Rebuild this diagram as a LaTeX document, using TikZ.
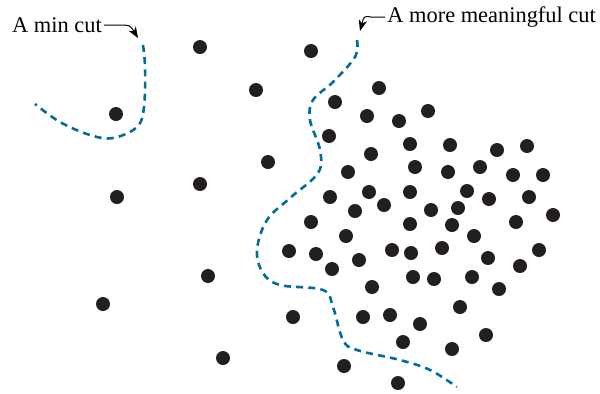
\documentclass[tikz,border=0pt]{standalone}
\usepackage{fontspec}
\setmainfont{Liberation Serif}
\usetikzlibrary{arrows.meta,positioning}
\definecolor{cutblue}{RGB}{0,110,152}
\definecolor{dotblack}{RGB}{35,31,32}
\tikzset{
  cutline/.style={cutblue,line width=1.3pt,dash pattern=on 3.5pt off 2.6pt},
  vertex/.style={fill=dotblack},
  cutlabel/.style={inner sep=1pt,font=\fontsize{11.2}{13}\selectfont},
  pointer/.style={-{Stealth[length=5.5pt,width=4.2pt,inset=1.6pt]},line width=0.5pt}
}
\begin{document}
\begin{tikzpicture}[x=0.5pt,y=-0.5pt]
    \useasboundingbox (0,0) rectangle (600,393);
    % points of the graph
    \foreach \px/\py in {200/47,311/51,256/90,379/88,335/102,116/114,367/116,399/121,428/111,
        329/136,410/144,450/145,497/150,527/146,268/162,371/154,415/167,448/172,480/167,
        513/175,543/175,348/172,200/184,117/197,330/197,369/192,410/192,384/205,355/211,
        431/210,467/191,458/208,489/199,529/197,553/215,311/222,410/224,452/225,516/222,
        474/236,346/236,289/251,316/254,332/269,359/260,392/250,411/253,442/248,488/258,
        539/250,520/266,208/276,413/277,434/279,472/277,499/289,372/287,103/304,460/307,
        293/317,363/317,390/315,420/324,486/335,403/342,452/349,223/358,344/366,398/383}
        \fill[vertex] (\px,\py) circle[radius=3.5pt];
    % the two cuts
    \coordinate (mintip) at (138,38);
    \coordinate (goodtip) at (360,31);
    \draw[cutline] plot[smooth,tension=0.6] coordinates {(143,45) (145,67) (144,107) (137,127)
        (113,138) (90,135) (60,122) (35,104)};
    \draw[cutline] plot[smooth,tension=0.6] coordinates {(357,40) (355,57) (333,82) (313,100)
        (310,120) (320,150) (318,173) (290,198) (267,220) (257,250) (263,273) (280,285)
        (323,290) (333,307) (343,340) (357,350) (400,360) (430,370) (457,387)};
    % labels
    \node[cutlabel] (mincut) at (57,25) {A min cut};
    \node[cutlabel,anchor=west] (goodcut) at (385,17) {A more meaningful cut};
    \draw[pointer] (mincut.east) -- ++(14,0) .. controls (130,25) .. (mintip);
    \draw[pointer] (goodcut.west) -- ++(-14,0) .. controls (364,16) .. (goodtip);
\end{tikzpicture}
\end{document}
